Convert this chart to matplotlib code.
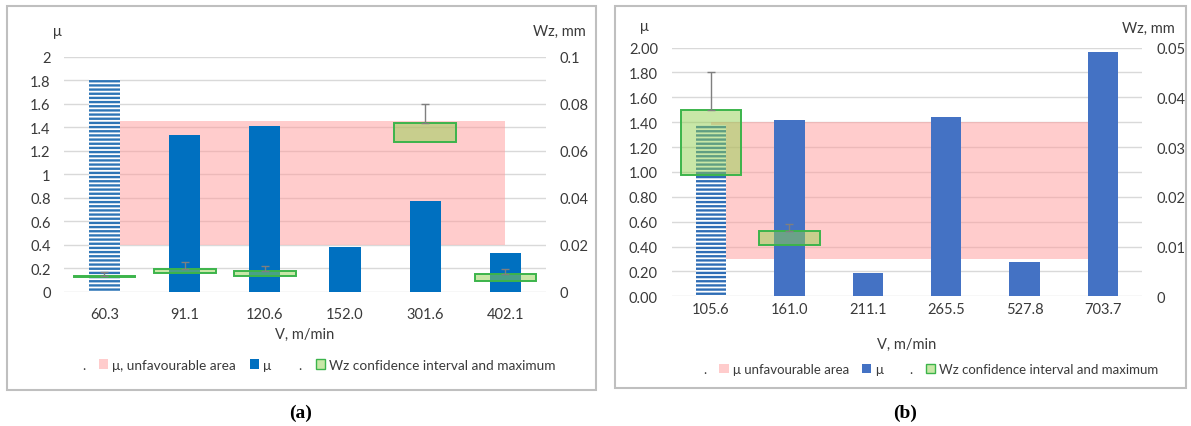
import numpy as np
import matplotlib
matplotlib.use("Agg")
import matplotlib.pyplot as plt
from matplotlib.patches import Rectangle

plt.rcParams['font.family'] = ['Lato', 'DejaVu Sans']
plt.rcParams['hatch.linewidth'] = 1.7

W, H = 1191, 427

# ---- data, panel (a)
a_speeds = ['60.3', '91.1', '120.6', '152.0', '301.6', '402.1']
a_mu = [1.81, 1.335, 1.41, 0.377, 0.767, 0.325]
a_zone = [0.40, 1.45]
a_wz_lo = [0.0062, 0.0077, 0.0067, np.nan, 0.0638, 0.0046]
a_wz_hi = [0.0066, 0.0098, 0.0088, np.nan, 0.0717, 0.0073]
a_wz_max = [0.0082, 0.0126, 0.0111, np.nan, 0.0800, 0.0098]

# ---- data, panel (b)
b_speeds = ['105.6', '161.0', '211.1', '265.5', '527.8', '703.7']
b_mu = [1.38, 1.415, 0.188, 1.443, 0.274, 1.962]
b_zone = [0.30, 1.40]
b_wz_lo = [0.0243, 0.0104, np.nan, np.nan, np.nan, np.nan]
b_wz_hi = [0.0375, 0.0132, np.nan, np.nan, np.nan, np.nan]
b_wz_max = [0.0450, 0.0146, np.nan, np.nan, np.nan, np.nan]

txt = '#3a3a3a'
grid_c = '#d9d9d9'
pink = '#ff9a9a'
box_face = '#92d050'
box_edge = '#3cb44b'
fs = 10.5


def fx(x):
    return x / W


def fy(y):
    return 1 - y / H


fig = plt.figure(figsize=(W / 100, H / 100), dpi=100)


def panel(box, speeds, mu, zone, lo, hi, mx, bar_c, hatch_c, ymax_r, lticks, lfmt, rticks,
          xpad, xlabpad):
    x0, y0, x1, y1 = box
    ax = fig.add_axes([fx(x0), fy(y1), (x1 - x0) / W, (y1 - y0) / H])
    x = np.arange(len(speeds))
    ax.set_xlim(-0.5, len(speeds) - 0.5)
    ax.set_ylim(0, 2)
    ax.set_axisbelow(True)
    ax.yaxis.grid(True, color=grid_c, lw=1.0)
    for s in ax.spines.values():
        s.set_visible(False)
    ax.fill_between([x[0], x[-1]], zone[0], zone[1], color=pink, alpha=0.5, lw=0, zorder=1)
    ax.bar(x[1:], mu[1:], width=0.39, color=bar_c, zorder=2)
    ax.bar(x[0], mu[0], width=0.39, facecolor='white', edgecolor=hatch_c, hatch='----',
           lw=0, zorder=2)
    ax.set_yticks(lticks)
    ax.set_yticklabels([lfmt(v) for v in lticks])
    ax.set_xticks(x)
    ax.set_xticklabels(speeds)
    ax.tick_params(length=0, labelsize=fs, labelcolor=txt)
    ax.tick_params(axis='x', pad=xpad)
    ax.tick_params(axis='y', pad=10)
    ax.set_xlabel('V, m/min', fontsize=fs, color=txt, labelpad=xlabpad)

    ax2 = ax.twinx()
    ax2.set_ylim(0, ymax_r)
    for s in ax2.spines.values():
        s.set_visible(False)
    lo = np.array(lo)
    hi = np.array(hi)
    mx = np.array(mx)
    ax2.bar(x, hi - lo, bottom=lo, width=0.77, facecolor=box_face, alpha=0.5, zorder=3)
    ax2.bar(x, hi - lo, bottom=lo, width=0.77, facecolor='none', edgecolor=box_edge,
            lw=1.4, zorder=4)
    ax2.errorbar(x, hi, yerr=[np.zeros(len(x)), mx - hi], fmt='none', ecolor='#7f7f7f',
                 elinewidth=1, capsize=3, capthick=1, zorder=4)
    ax2.set_yticks(rticks)
    ax2.set_yticklabels(['0' if v == 0 else ('%g' % v) for v in rticks])
    ax2.tick_params(length=0, labelsize=fs, labelcolor=txt, pad=10)
    return ax, ax2


panel((64.4, 57.5, 545.5, 292.6), a_speeds, a_mu, a_zone, a_wz_lo, a_wz_hi, a_wz_max,
      '#0070c0', '#2e75b6', 0.1, np.arange(0, 2.01, 0.2), lambda v: '%g' % round(v, 1),
      np.arange(0, 0.101, 0.02), 11, 4)
panel((671.8, 48.5, 1142.2, 297.3), b_speeds, b_mu, b_zone, b_wz_lo, b_wz_hi, b_wz_max,
      '#4472c4', '#2f6db5', 0.05, np.arange(0, 2.01, 0.2), lambda v: '%.2f' % v,
      np.arange(0, 0.051, 0.01), 4, 15)

# axis titles
fig.text(fx(57), fy(32), 'μ', fontsize=fs, color=txt, ha='center', va='center')
fig.text(fx(586), fy(32), 'Wz, mm', fontsize=fs, color=txt, ha='right', va='center')
fig.text(fx(644), fy(27), 'μ', fontsize=fs, color=txt, ha='center', va='center')
fig.text(fx(1175), fy(29), 'Wz, mm', fontsize=fs, color=txt, ha='right', va='center')

# panel borders
for bx in [(7, 7, 596, 391), (615, 7, 1186, 389)]:
    fig.patches.append(Rectangle((fx(bx[0]), fy(bx[3])), (bx[2] - bx[0]) / W,
                                 (bx[3] - bx[1]) / H, transform=fig.transFigure,
                                 fill=False, edgecolor='#bfbfbf', lw=1.5))


# legends
def legend(cx, cy, zone_label, bar_c, size):
    handles = [Rectangle((0, 0), 1, 1, fill=False, lw=0),
               Rectangle((0, 0), 1, 1, facecolor=pink, alpha=0.5, lw=0),
               Rectangle((0, 0), 1, 1, facecolor=bar_c, lw=0),
               Rectangle((0, 0), 1, 1, fill=False, lw=0),
               Rectangle((0, 0), 1, 1, facecolor='#c8e7a7', edgecolor=box_edge, lw=1)]
    labels = ['.', zone_label, 'μ', '.', 'Wz confidence interval and maximum']
    fig.legend(handles, labels, loc='center', bbox_to_anchor=(fx(cx), fy(cy)), ncol=5,
               frameon=False, fontsize=size, labelcolor=txt, handlelength=0.7,
               handleheight=0.7, handletextpad=0.3, columnspacing=1.0)


legend(312, 366, 'μ, unfavourable area', '#0070c0', 9.8)
legend(924, 370, 'μ unfavourable area', '#4472c4', 9.5)

fig.text(fx(301), fy(413), '(a)', fontsize=14, fontweight='bold', family='Liberation Serif',
         ha='center', va='center')
fig.text(fx(905), fy(413), '(b)', fontsize=14, fontweight='bold', family='Liberation Serif',
         ha='center', va='center')

fig.savefig('out.png', dpi=100)
